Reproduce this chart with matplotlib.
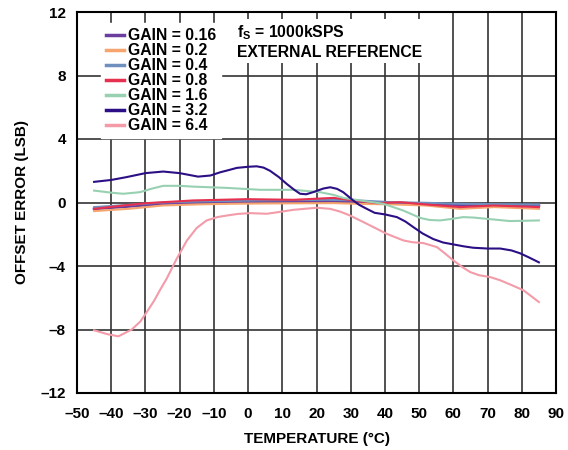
import matplotlib
matplotlib.use("Agg")
import matplotlib.pyplot as plt

plt.rcParams["font.family"] = ["Liberation Sans", "DejaVu Sans"]
plt.rcParams["font.weight"] = "bold"
plt.rcParams["mathtext.fontset"] = "custom"
plt.rcParams["mathtext.rm"] = "Liberation Sans:bold"
plt.rcParams["mathtext.bf"] = "Liberation Sans:bold"
plt.rcParams["mathtext.it"] = "Liberation Sans:bold"

# temperature (°C) and offset error (LSB)
t_016 = [-45, -35, -25, -15, -5, 5, 15, 25, 32, 42, 52, 62, 72, 85]
v_016 = [-0.40, -0.25, -0.08, 0.0, 0.04, 0.06, 0.08, 0.10, 0.02, -0.04, -0.10, -0.15, -0.15, -0.20]

t_02 = [-45, -35, -25, -15, -5, 5, 15, 25, 32, 42, 52, 62, 72, 85]
v_02 = [-0.54, -0.40, -0.19, -0.12, -0.08, -0.06, -0.05, -0.04, -0.08, -0.12, -0.19, -0.40, -0.29, -0.40]

t_04 = [-45, -35, -25, -15, -5, 3.5, 13, 23, 32, 42, 52, 62, 72, 85]
v_04 = [-0.29, -0.15, 0.0, 0.06, 0.10, 0.13, 0.15, 0.17, 0.13, 0.02, -0.02, -0.08, -0.10, -0.13]

t_08 = [-45, -37, -29.6, -16, -0.4, 13.2, 25, 30.8, 37.7, 44.4, 52.3, 62, 71.7, 85]
v_08 = [-0.40, -0.20, -0.04, 0.13, 0.21, 0.17, 0.29, 0.13, -0.04, 0.02, -0.13, -0.29, -0.19, -0.29]

t_16 = [-45, -40, -36.5, -31.6, -28, -24.8, -20, -16, -6.2, 3.5, 13.2, 21, 25, 27.8, 32.7,
        39.5, 45.3, 50.3, 53, 56.1, 59, 62.9, 66, 69.8, 76.6, 85]
v_16 = [0.75, 0.62, 0.55, 0.65, 0.88, 1.05, 1.05, 1.00, 0.92, 0.80, 0.80, 0.65, 0.48, 0.29, 0.13,
        -0.08, -0.50, -0.97, -1.10, -1.13, -1.05, -0.92, -0.95, -1.03, -1.17, -1.13]

t_32 = [-45, -40, -35.5, -30, -24.8, -20, -14.6, -11, -8.2, -5, -3.3, 0, 2.5, 4.5, 6.4, 9,
        11.3, 13.5, 15.2, 17, 19, 22, 24, 26, 27.8, 29.5, 30.7, 32.5, 34.7, 37, 40, 43.5,
        46, 48.3, 51, 54.1, 57, 60, 63, 65.8, 70, 73.7, 77, 79.5, 82, 85]
v_32 = [1.30, 1.42, 1.60, 1.85, 1.95, 1.85, 1.63, 1.70, 1.90, 2.08, 2.18, 2.25, 2.28, 2.20, 2.00,
        1.60, 1.17, 0.80, 0.55, 0.52, 0.65, 0.88, 0.96, 0.86, 0.65, 0.35, 0.13, -0.15, -0.40,
        -0.65, -0.75, -0.92, -1.20, -1.55, -1.95, -2.30, -2.52, -2.64, -2.76, -2.85, -2.90,
        -2.90, -3.02, -3.20, -3.45, -3.77]

t_64 = [-45, -41, -37.9, -34, -31.5, -29.6, -27.5, -25.7, -23.8, -21, -17.9, -15, -12.1, -9,
        -6.2, -3, 0.6, 5.5, 9, 13.3, 20.1, 24, 27, 29.8, 34.7, 40.5, 45.4, 48, 51.3, 55.2,
        57.5, 60, 62.5, 64.9, 67.5, 70.8, 73.7, 77, 80.5, 85]
v_64 = [-8.05, -8.30, -8.43, -8.00, -7.50, -6.90, -6.20, -5.50, -4.80, -3.60, -2.40, -1.60,
        -1.13, -0.92, -0.82, -0.72, -0.67, -0.71, -0.60, -0.46, -0.33, -0.40, -0.58, -0.82,
        -1.34, -1.97, -2.39, -2.50, -2.56, -2.81, -3.20, -3.65, -4.05, -4.38, -4.58, -4.70,
        -4.90, -5.20, -5.53, -6.27]

series = [
    ("GAIN = 0.16", t_016, v_016, "#6a3d9e", 2.0),
    ("GAIN = 0.2", t_02, v_02, "#f7a56e", 1.5),
    ("GAIN = 0.4", t_04, v_04, "#6f8fbf", 1.5),
    ("GAIN = 0.8", t_08, v_08, "#e5304f", 1.5),
    ("GAIN = 1.6", t_16, v_16, "#98d0b2", 1.5),
    ("GAIN = 3.2", t_32, v_32, "#2c0f85", 1.5),
    ("GAIN = 6.4", t_64, v_64, "#f39ba8", 1.5),
]

fig = plt.figure(figsize=(5.68, 4.5), dpi=100)
ax = fig.add_axes([77 / 568, 1 - 393 / 450, (556 - 77) / 568, (393 - 12) / 450])

for label, t, v, c, lw in series:
    ax.plot(t, v, color=c, lw=lw, label=label, solid_joinstyle="round")

ax.set_xlim(-50, 90)
ax.set_ylim(-12, 12)
ax.set_xticks(range(-50, 91, 10))
ax.set_yticks(range(-12, 13, 4))
ax.set_xticklabels([str(x).replace("-", "\u2013") for x in range(-50, 91, 10)])
ax.set_yticklabels([str(y).replace("-", "\u2013") for y in range(-12, 13, 4)])
ax.tick_params(axis="x", length=0, labelsize=11, pad=10)
ax.tick_params(axis="y", length=0, labelsize=11, pad=8)
ax.grid(True, color="#333333", lw=1.2)
ax.set_axisbelow(True)
for s in ax.spines.values():
    s.set_linewidth(1.5)

ax.set_xlabel("TEMPERATURE (°C)", fontsize=11, fontweight="bold", labelpad=8)
ax.set_ylabel("OFFSET ERROR (LSB)", fontsize=11, fontweight="bold", labelpad=8)

leg = ax.legend(loc="upper left", bbox_to_anchor=(0.05, 0.97), fontsize=11.3,
                frameon=True, fancybox=False, handlelength=1.15, handletextpad=0.25,
                labelspacing=0.0, borderpad=0.3, borderaxespad=0)
leg.get_frame().set_edgecolor("white")
leg.get_frame().set_facecolor("white")
leg.get_frame().set_alpha(1)
for h in leg.get_lines():
    h.set_linewidth(2.5)

ax.text(0.335, 0.97, "f$_\\mathregular{S}$ = 1000kSPS\nEXTERNAL REFERENCE",
        transform=ax.transAxes, fontsize=11.3, fontweight="bold", va="top", ha="left",
        linespacing=1.25,
        bbox=dict(facecolor="white", edgecolor="none", pad=2))

fig.savefig("out.png", dpi=100)
